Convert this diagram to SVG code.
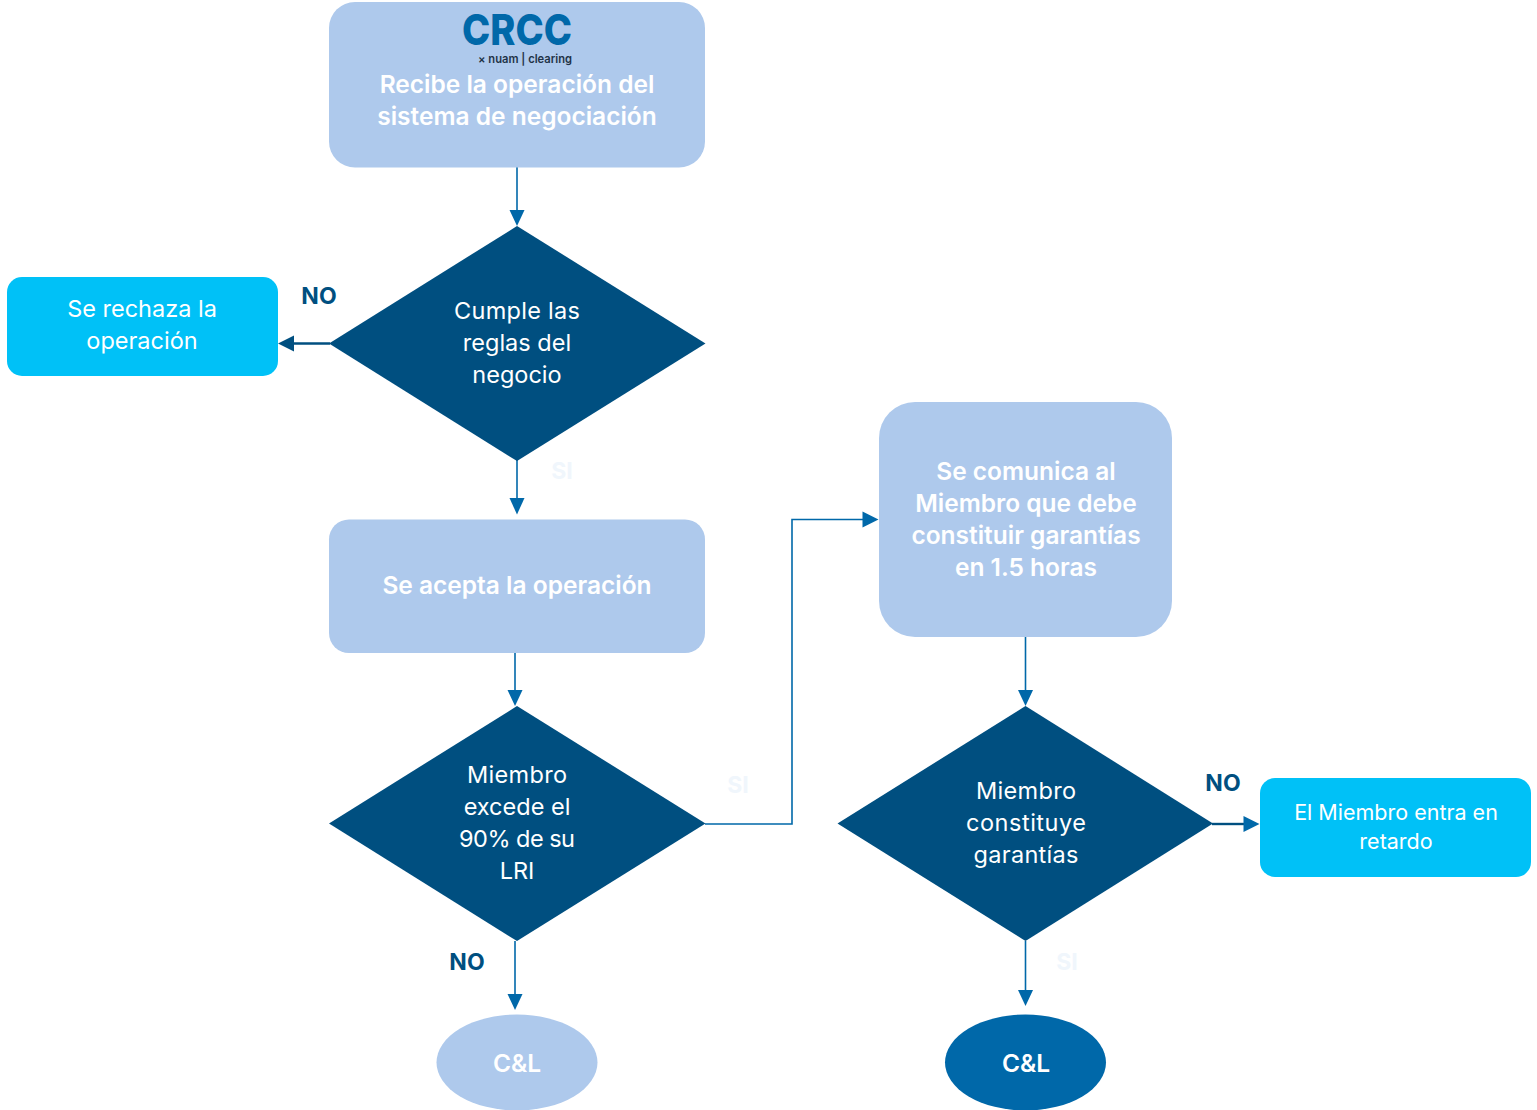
<svg xmlns="http://www.w3.org/2000/svg" width="1537" height="1110" viewBox="0 0 1537 1110">
<style>
text{font-family:Inter,"Liberation Sans",sans-serif;text-anchor:middle}
.t{font-size:23.500px;fill:#fff}
.m{font-size:24.500px;font-weight:600}
.n{font-size:21.500px}
.l{font-size:23px;font-weight:700;fill:#004f80}
.s{font-size:23px;font-weight:700;fill:#f0f6fc}
.p{fill:#aec9ec}
.d{fill:#004f80}
.c{fill:#00c1f7}
.ln{fill:none;stroke:#0068a9;stroke-width:1.6}
.ld{fill:none;stroke:#004f80;stroke-width:2.4}
.ah{fill:#0068a9}
.ad{fill:#004f80}
</style>
<rect width="1537" height="1110" fill="#fff"/>
<g id="connectors">
<path class="ln" d="M517 167V210"/><path class="ah" d="M509.500 210H524.500L517 226Z"/>
<path class="ld" d="M330 343.500H294"/><path class="ad" d="M294 335.500V351.500L278 343.500Z"/>
<path class="ln" d="M517 460V499"/><path class="ah" d="M509.500 498H524.500L517 514.500Z"/>
<path class="ln" d="M515 653V690"/><path class="ah" d="M507.500 690H522.500L515 706Z"/>
<path class="ln" d="M705 824H792V519.500H863"/><path class="ah" d="M862.500 511.500V527.500L878.500 519.500Z"/>
<path class="ln" d="M515 941V994"/><path class="ah" d="M507.500 994H522.500L515 1010Z"/>
<path class="ln" d="M1025.500 637V690"/><path class="ah" d="M1018 690H1033L1025.500 706Z"/>
<path class="ld" d="M1212 824H1244"/><path class="ah" d="M1243.500 816V832L1259.500 824Z"/>
<path class="ln" d="M1025.500 941V990"/><path class="ah" d="M1018 990H1033L1025.500 1006Z"/>
</g>
<g id="n1"><rect class="p" x="329" y="2" width="376" height="165.500" rx="26"/>
<text x="517" y="44.500" font-size="43" font-weight="800" fill="#0068a9" textLength="110" lengthAdjust="spacingAndGlyphs">CRCC</text>
<text x="525" y="63" font-size="11.500" font-weight="600" fill="#1f3347" textLength="94" lengthAdjust="spacingAndGlyphs">× nuam | clearing</text>
<text class="t m" x="517" y="93">Recibe la operación del</text><text class="t m" x="517" y="125">sistema de negociación</text></g>
<g id="n2"><polygon class="d" points="517,226 705.500,343.500 517,461 329,343.500"/>
<text class="t" x="517" y="319" textLength="126">Cumple las</text><text class="t" x="517" y="351">reglas del</text><text class="t" x="517" y="383">negocio</text></g>
<g id="n3"><rect class="c" x="7" y="277" width="271" height="99" rx="15"/>
<text class="t" x="142" y="317">Se rechaza la</text><text class="t" x="142" y="349">operación</text></g>
<g id="n4"><rect class="p" x="329" y="519.500" width="376" height="133.500" rx="20"/>
<text class="t m" x="517" y="594">Se acepta la operación</text></g>
<g id="n5"><polygon class="d" points="517,706 705.500,823.500 517,941 329,823.500"/>
<text class="t" x="517" y="783" textLength="100">Miembro</text><text class="t" x="517" y="815">excede el</text><text class="t" x="517" y="847" textLength="116">90% de su</text><text class="t" x="517" y="879">LRI</text></g>
<g id="n6"><rect class="p" x="879" y="402" width="293" height="235" rx="36"/>
<text class="t m" x="1026" y="480">Se comunica al</text><text class="t m" x="1026" y="512">Miembro que debe</text><text class="t m" x="1026" y="544">constituir garantías</text><text class="t m" x="1026" y="576">en 1.5 horas</text></g>
<g id="n7"><polygon class="d" points="1025.500,706 1213,823.500 1025.500,941 837.500,823.500"/>
<text class="t" x="1026" y="799" textLength="100">Miembro</text><text class="t" x="1026" y="831" textLength="120">constituye</text><text class="t" x="1026" y="863" textLength="105">garantías</text></g>
<g id="n8"><rect class="c" x="1260" y="778" width="271" height="99" rx="15"/>
<text class="t n" x="1396" y="820">El Miembro entra en</text><text class="t n" x="1396" y="849">retardo</text></g>
<g id="n9"><ellipse class="p" cx="517" cy="1062.500" rx="80.500" ry="48"/><text class="t m" x="517" y="1072">C&amp;L</text></g>
<g id="n10"><ellipse fill="#0068a9" cx="1025.500" cy="1062.500" rx="80.500" ry="48"/><text class="t m" x="1026" y="1072">C&amp;L</text></g>
<g id="labels">
<text class="l" x="319" y="304">NO</text><text class="l" x="467" y="970">NO</text><text class="l" x="1223" y="791">NO</text>
<text class="s" x="562" y="479">SI</text><text class="s" x="738" y="793">SI</text><text class="s" x="1067" y="970">SI</text>
</g>
</svg>
